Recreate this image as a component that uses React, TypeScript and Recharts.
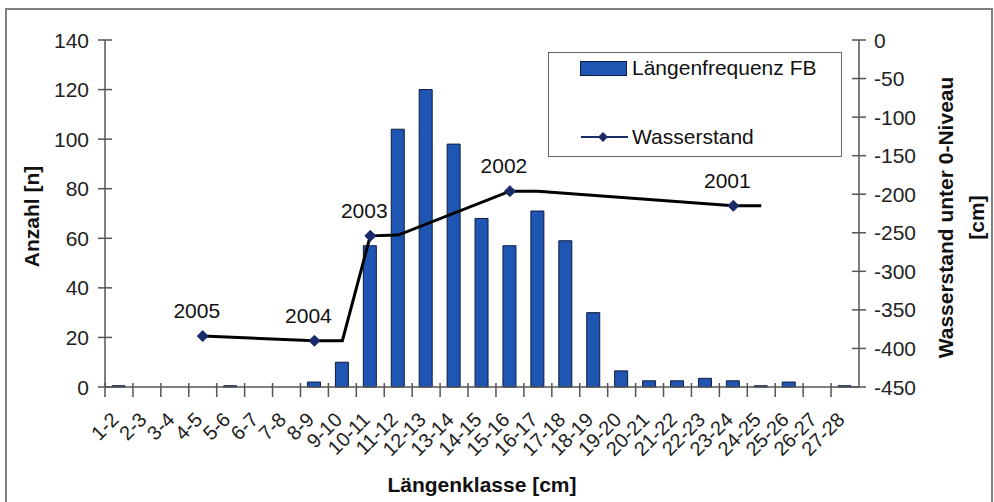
import React from "react";
import {
  Bar,
  ComposedChart,
  Label,
  LabelList,
  Legend,
  Line,
  XAxis,
  YAxis,
} from "recharts";

const classes = [
  "1-2", "2-3", "3-4", "4-5", "5-6", "6-7", "7-8", "8-9", "9-10", "10-11",
  "11-12", "12-13", "13-14", "14-15", "15-16", "16-17", "17-18", "18-19",
  "19-20", "20-21", "21-22", "22-23", "23-24", "24-25", "25-26", "26-27", "27-28",
];

const counts = [
  0.5, 0, 0, 0, 0.5, 0, 0, 2, 10, 57, 104, 120, 98, 68, 57, 71, 59, 30,
  6.5, 2.5, 2.5, 3.5, 2.5, 0.5, 2, 0, 0.5,
];

// water level line (connected across gaps)
const waterLevel: (number | null)[] = [
  null, null, null, -384, null, null, null, -390, -390, -254,
  -253, null, null, null, -196, -196, null, null, null, null,
  null, null, -215, -215, null, null, null,
];

// measured years, shown as markers
const yearLevel: (number | null)[] = [
  null, null, null, -384, null, null, null, -390, null, -254,
  null, null, null, null, -196, null, null, null, null, null,
  null, null, -215, null, null, null, null,
];

const yearLabels: (string | null)[] = [
  null, null, null, "2005", null, null, null, "2004", null, "2003",
  null, null, null, null, "2002", null, null, null, null, null,
  null, null, "2001", null, null, null, null,
];

const leftTicks = [0, 20, 40, 60, 80, 100, 120, 140];
const rightTicks = [-450, -400, -350, -300, -250, -200, -150, -100, -50, 0];

const data = classes.map((c, i) => ({
  klasse: c,
  anzahl: counts[i],
  wasser: waterLevel[i],
  jahr: yearLevel[i],
  jahrLabel: yearLabels[i],
}));

const FONT = '"Liberation Sans", Arial, sans-serif';
const FS = 21;
const AXIS = "#555";
const BAR = "#1f55b3";
const NAVY = "#1b2a6b";
const PLOT_W = 754;
const band = PLOT_W / classes.length;

const LeftTick = (props: any) => {
  const { x, y, payload } = props;
  return (
    <g>
      <line x1={x - 7} x2={x + 7} y1={y} y2={y} stroke={AXIS} strokeWidth={1.5} />
      <text x={x - 16} y={y} dy="0.36em" textAnchor="end" fontSize={FS} fill="#222" fontFamily={FONT}>
        {payload.value}
      </text>
    </g>
  );
};

const RightTick = (props: any) => {
  const { x, y, payload } = props;
  return (
    <g>
      <line x1={x - 7} x2={x + 7} y1={y} y2={y} stroke={AXIS} strokeWidth={1.5} />
      <text x={x + 15} y={y} dy="0.36em" textAnchor="start" fontSize={FS} fill="#222" fontFamily={FONT}>
        {payload.value}
      </text>
    </g>
  );
};

const CategoryTick = (props: any) => {
  const { x, y, payload } = props;
  const bx = x - band / 2;
  const tx = x - 4;
  const ty = y + 29;
  return (
    <g>
      <line x1={bx} x2={bx} y1={y - 4} y2={y + 10} stroke={AXIS} strokeWidth={1.5} />
      <text
        x={tx}
        y={ty}
        dy="0.35em"
        textAnchor="end"
        fontSize={20}
        fill="#222"
        fontFamily={FONT}
        transform={`rotate(-45, ${tx}, ${ty})`}
      >
        {payload.value}
      </text>
    </g>
  );
};

const Diamond = (props: any) => {
  const { cx, cy, value } = props;
  if (value == null || cx == null || cy == null) return null;
  const r = 5.5;
  return (
    <path
      d={`M${cx},${cy - r}L${cx + r},${cy}L${cx},${cy + r}L${cx - r},${cy}Z`}
      fill={NAVY}
      stroke={NAVY}
    />
  );
};

const YearLabel = (props: any) => {
  const { x, y, value } = props;
  if (!value) return null;
  return (
    <text x={x - 6} y={y - 25} textAnchor="middle" dy="0.35em" fontSize={FS} fill="#111" fontFamily={FONT}>
      {value}
    </text>
  );
};

const LegendBox = () => (
  <div
    style={{
      width: "100%",
      height: "100%",
      boxSizing: "border-box",
      border: "1.5px solid #666",
      background: "#fff",
      fontFamily: FONT,
      fontSize: FS,
      color: "#111",
      position: "relative",
    }}
  >
    <div style={{ position: "absolute", left: 31, top: 3, display: "flex", alignItems: "center" }}>
      <span style={{ display: "inline-block", width: 45, height: 13, background: BAR, border: "1px solid #0d1b3e", marginRight: 5 }} />
      <span>Längenfrequenz FB</span>
    </div>
    <div style={{ position: "absolute", left: 32, top: 72, display: "flex", alignItems: "center" }}>
      <svg width={47} height={14} style={{ marginRight: 4 }}>
        <line x1={0} x2={47} y1={7} y2={7} stroke={NAVY} strokeWidth={2} />
        <path d="M22,2L27,7L22,12L17,7Z" fill={NAVY} />
      </svg>
      <span>Wasserstand</span>
    </div>
  </div>
);

export default function App() {
  return (
    <div style={{ position: "absolute", left: 0, top: 0, width: 994, height: 502, background: "#fff", overflow: "hidden" }}>
      <div
        style={{
          position: "absolute",
          left: 5,
          top: 8,
          width: 988,
          height: 520,
          boxSizing: "border-box",
          border: "2px solid #808080",
        }}
      />
      <ComposedChart
        width={994}
        height={502}
        data={data}
        margin={{ top: 40, right: 0, bottom: 35, left: 0 }}
        barCategoryGap={0}
        style={{ position: "absolute", left: 0, top: 0 }}
      >
        <XAxis
          dataKey="klasse"
          interval={0}
          height={80}
          tickSize={0}
          tickMargin={0}
          tickLine={false}
          axisLine={{ stroke: AXIS, strokeWidth: 1.5 }}
          tick={<CategoryTick />}
        >
          <Label
            content={(p: any) => {
              const vb = p.viewBox;
              return (
                <text x={vb.x + vb.width / 2} y={vb.y + 105} textAnchor="middle" fontSize={FS} fontWeight="bold" fill="#111" fontFamily={FONT}>
                  Längenklasse [cm]
                </text>
              );
            }}
          />
        </XAxis>
        <YAxis
          yAxisId="left"
          width={105}
          domain={[0, 140]}
          ticks={leftTicks}
          tickSize={0}
          tickMargin={0}
          tickLine={false}
          axisLine={{ stroke: AXIS, strokeWidth: 1.5 }}
          tick={<LeftTick />}
        >
          <Label
            content={(p: any) => {
              const vb = p.viewBox;
              const cx = 32;
              const cy = vb.y + vb.height / 2 + 3;
              return (
                <text x={cx} y={cy} dy="0.35em" textAnchor="middle" fontSize={FS} fontWeight="bold" fill="#111" fontFamily={FONT} transform={`rotate(-90, ${cx}, ${cy})`}>
                  Anzahl [n]
                </text>
              );
            }}
          />
        </YAxis>
        <YAxis
          yAxisId="right"
          orientation="right"
          width={135}
          domain={[-450, 0]}
          ticks={rightTicks}
          tickSize={0}
          tickMargin={0}
          tickLine={false}
          axisLine={{ stroke: AXIS, strokeWidth: 1.5 }}
          tick={<RightTick />}
        >
          <Label
            content={(p: any) => {
              const vb = p.viewBox;
              const cy = vb.y + vb.height / 2 + 4;
              const x1 = vb.x + 87;
              const x2 = vb.x + 118;
              return (
                <g>
                  <text x={x1} y={cy} dy="0.35em" textAnchor="middle" fontSize={FS} fontWeight="bold" fill="#111" fontFamily={FONT} transform={`rotate(-90, ${x1}, ${cy})`}>
                    Wasserstand unter 0-Niveau
                  </text>
                  <text x={x2} y={cy} dy="0.35em" textAnchor="middle" fontSize={FS} fontWeight="bold" fill="#111" fontFamily={FONT} transform={`rotate(-90, ${x2}, ${cy})`}>
                    [cm]
                  </text>
                </g>
              );
            }}
          />
        </YAxis>
        <Legend
          layout="vertical"
          align="center"
          verticalAlign="middle"
          wrapperStyle={{ left: 548, top: 52, width: 294, height: 105 }}
          content={<LegendBox />}
        />
        <Bar
          yAxisId="left"
          dataKey="anzahl"
          barSize={13}
          fill={BAR}
          stroke="#0d1b3e"
          strokeWidth={1}
          isAnimationActive={false}
        />
        <Line
          yAxisId="right"
          dataKey="wasser"
          type="linear"
          stroke="#000"
          strokeWidth={3}
          dot={false}
          activeDot={false}
          connectNulls
          isAnimationActive={false}
        />
        <Line
          yAxisId="right"
          dataKey="jahr"
          stroke="none"
          dot={<Diamond />}
          activeDot={false}
          isAnimationActive={false}
        >
          <LabelList dataKey="jahrLabel" content={<YearLabel />} />
        </Line>
      </ComposedChart>
    </div>
  );
}
